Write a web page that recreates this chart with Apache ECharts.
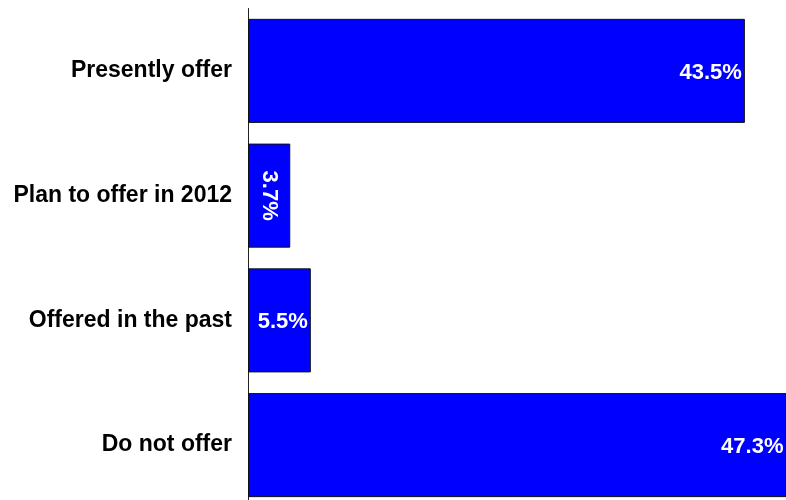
<!DOCTYPE html>
<html>
<head>
<meta charset="utf-8">
<script src="https://cdn.jsdelivr.net/npm/echarts@6/dist/echarts.min.js"></script>
<style>
  html, body { margin: 0; padding: 0; background: #fff; }
  #chart { width: 786px; height: 500px; }
</style>
</head>
<body>
<div id="chart"></div>
<script>
// Share of respondents by offering status (percent)
const categories = ['Presently offer', 'Plan to offer in 2012', 'Offered in the past', 'Do not offer'];
const shares = [43.5, 3.7, 5.5, 47.3];

const chart = echarts.init(document.getElementById('chart'), null, { renderer: 'canvas' });

const barData = shares.map(function (v, i) {
  const item = { value: v };
  // the narrow 2012 bar carries its label turned on its side
  if (i === 1) {
    item.label = { position: 'inside', rotate: -90, offset: [0, 0] };
  }
  return item;
});

chart.setOption({
  animation: false,
  backgroundColor: '#ffffff',
  grid: {
    left: 248, width: 538, top: 8.5, height: 499,
    containLabel: false,
    outerBoundsMode: 'none'
  },
  xAxis: {
    type: 'value',
    min: 0,
    max: 47.1,
    show: false
  },
  yAxis: {
    type: 'category',
    data: categories,
    inverse: true,
    axisLine: { show: true, lineStyle: { color: '#222', width: 1 } },
    axisTick: { show: false },
    axisLabel: {
      color: '#000',
      fontFamily: 'Liberation Sans, Arial, sans-serif',
      fontWeight: 'bold',
      fontSize: 23,
      margin: 16,
      padding: [4, 0, 0, 0]
    }
  },
  series: [{
    type: 'bar',
    data: barData,
    barCategoryGap: '16.6%',
    itemStyle: { color: '#0000ff', borderColor: '#111', borderWidth: 1 },
    label: {
      show: true,
      position: 'insideRight',
      distance: 3,
      offset: [0, 2],
      color: '#fff',
      fontFamily: 'Liberation Sans, Arial, sans-serif',
      fontWeight: 'bold',
      fontSize: 22,
      formatter: function (p) { return p.value.toFixed(1) + '%'; }
    }
  }]
});
</script>
</body>
</html>
